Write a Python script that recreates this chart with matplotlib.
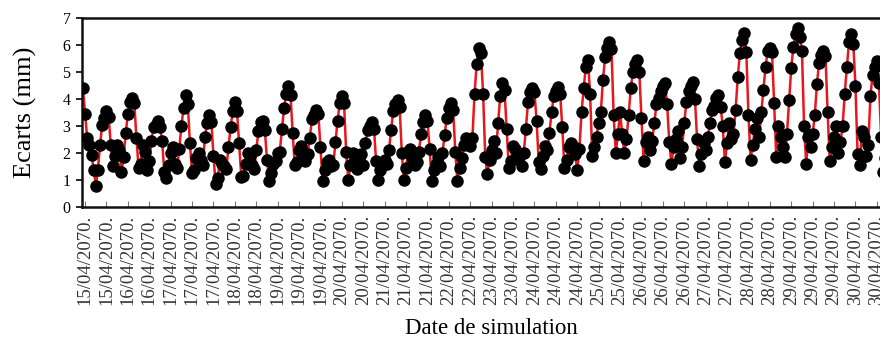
import matplotlib
matplotlib.use("Agg")
import matplotlib.pyplot as plt

# Tick labels (one every 10 hourly values)
tick_days = ["15", "15", "16", "16", "17", "17", "17", "18", "18", "19", "19", "19",
             "20", "20", "21", "21", "21", "22", "22", "23", "23", "24", "24", "24",
             "25", "25", "26", "26", "26", "27", "27", "28", "28", "29", "29", "29",
             "30", "30"]
tick_labels = [d + "/04/2070." for d in tick_days]

# Hourly gaps (mm), grouped by tidal cycle
ecarts_a = [4.40, 3.45, 2.55, 2.30, 1.92, 1.38, 0.78, 1.38, 2.30, 3.05, 3.30,
            3.55, 3.35, 2.30, 1.50, 1.90, 2.30, 2.10, 1.28, 1.85, 2.75, 3.45, 3.90,
            4.05, 3.85, 2.55, 1.45, 1.60, 2.30, 2.05, 1.35, 1.70, 2.45, 2.95, 3.05,
            3.20, 2.95, 2.45, 1.30, 1.05, 1.55, 2.00, 2.20, 1.60, 1.45, 2.15, 3.00, 3.65,
            4.15, 3.80, 2.35, 1.25, 1.35, 1.80, 2.00, 1.75, 1.55, 2.60, 3.10,
            3.40, 3.15, 1.90, 0.85, 1.05, 1.75, 1.60, 1.50, 1.40, 2.20, 2.95, 3.55,
            3.90, 3.55, 2.35, 1.10, 1.15, 1.60, 2.00, 1.90, 1.55, 1.40, 2.10, 2.80, 3.15,
            3.20, 2.85, 1.75, 0.95, 1.25, 1.60, 1.70, 2.00, 2.05, 2.90, 3.65, 4.20]
ecarts_b = [4.50, 4.15, 2.75, 1.55, 1.65, 2.10, 2.25, 2.00, 1.70, 1.95, 2.55, 3.25, 3.40,
            3.60, 3.45, 2.20, 0.95, 1.35, 1.65, 1.75, 1.50, 1.55, 2.40, 3.20, 3.85,
            4.10, 3.85, 2.05, 1.00, 1.55, 2.00, 1.80, 1.40, 1.75, 1.95, 1.55, 2.35, 2.85, 3.00,
            3.15, 2.90, 1.70, 1.00, 1.35, 1.55, 1.75, 1.60, 2.10, 2.85, 3.55, 3.80,
            3.95, 3.70, 2.00, 1.00, 1.45, 2.05, 2.15, 1.80, 1.55, 1.65, 2.05, 2.70, 3.15,
            3.40, 3.20, 2.15, 0.95, 1.35, 1.60, 1.85, 1.50, 2.00, 2.65, 3.30, 3.65,
            3.85, 3.60, 2.05, 0.95, 1.45, 1.80, 2.30, 2.55, 2.40, 2.25, 2.55, 4.20, 5.30]
ecarts_c = [5.90, 5.70, 4.20, 1.85, 1.20, 1.75, 2.10, 2.45, 2.00, 3.10, 4.10,
            4.60, 4.35, 2.90, 1.45, 1.70, 2.25, 2.15, 1.90, 1.85, 1.50, 2.00, 2.90, 3.90, 4.25,
            4.40, 4.25, 3.20, 1.65, 1.40, 1.90, 2.25, 2.10, 2.75, 3.50, 4.10, 4.30,
            4.45, 4.20, 2.95, 1.45, 1.75, 2.20, 2.35, 2.25, 1.95, 1.36, 2.15, 3.50, 4.40, 5.20,
            5.45, 4.20, 1.90, 2.20, 2.60, 3.10, 3.50, 4.70, 5.55, 5.90,
            6.10, 5.85, 3.40, 2.00, 2.70, 3.50, 2.70, 2.00, 2.50, 3.40, 4.40, 5.00, 5.30,
            5.45, 5.00, 3.30, 1.70, 2.40, 2.60, 2.10, 2.45, 3.10, 3.80, 4.05, 4.30, 4.50]
ecarts_d = [4.60, 3.80, 2.40, 1.60, 2.20, 2.50, 2.80, 1.80, 2.20, 3.10, 3.90, 4.30, 4.50,
            4.65, 4.00, 2.50, 1.50, 1.95, 2.35, 2.10, 2.60, 3.10, 3.60, 3.75, 4.05,
            4.15, 3.70, 3.00, 1.65, 2.35, 3.10, 2.50, 2.70, 3.60, 4.80, 5.70, 6.20,
            6.45, 5.75, 3.40, 1.75, 2.30, 2.90, 3.30, 2.60, 3.50, 4.35, 5.20, 5.80,
            5.90, 5.75, 3.85, 1.85, 3.00, 2.60, 2.20, 1.85, 2.70, 3.95, 5.15, 5.95, 6.40,
            6.65, 6.30, 5.80, 3.00, 1.60, 2.60, 2.20, 2.70, 3.40, 4.55, 5.35, 5.65,
            5.80, 5.60, 3.50, 1.70, 2.20, 2.60, 3.00, 2.00, 2.40, 3.00, 4.20, 5.20, 6.10,
            6.40, 6.05, 4.50, 1.95, 1.55, 2.80, 2.60, 1.90, 2.30, 4.10, 4.90, 5.20,
            5.40, 4.60, 2.60, 1.30, 1.80, 2.30, 2.60, 2.20, 2.50, 3.40, 4.50, 5.40, 6.00]

ecarts = ecarts_a + ecarts_b + ecarts_c + ecarts_d
hours = list(range(len(ecarts)))
tick_pos = [1 + 10 * k for k in range(len(tick_labels))]

serif = ["Liberation Serif", "DejaVu Serif"]

fig = plt.figure(figsize=(8.8, 3.42), dpi=100)
ax = fig.add_axes([0.0928, 0.3956, 0.934, 0.551])

ax.plot(hours, ecarts, color="#e8171c", linewidth=1.8, zorder=2)
ax.plot(hours, ecarts, linestyle="none", marker="o", markersize=8,
        markerfacecolor="black", markeredgecolor="black", zorder=3)

ax.set_xlim(-0.6, 383.5)
ax.set_ylim(0, 7)
ax.set_yticks(range(0, 8))
ax.set_yticklabels([str(v) for v in range(0, 8)], fontfamily=serif, fontsize=11.5)
ax.set_xticks(tick_pos)
ax.set_xticklabels(tick_labels, rotation=90, fontfamily=serif, fontsize=13.5,
                   color="#333333", va="top", ha="center")
ax.tick_params(axis="x", direction="in", length=4, width=0.8, color="#777777", pad=6)
ax.tick_params(axis="y", direction="out", length=4, width=1.2, pad=4)

for side in ["left", "bottom", "top", "right"]:
    ax.spines[side].set_linewidth(1.8)
    ax.spines[side].set_color("#111111")

fig.text(25 / 880, 1 - 112 / 342, "Ecarts (mm)", rotation=90, ha="center",
         va="center", fontfamily=serif, fontsize=19)
fig.text(491 / 880, 1 - 328 / 342, "Date de simulation", ha="center",
         va="center", fontfamily=serif, fontsize=16.5)

fig.savefig("out.png", dpi=100)
